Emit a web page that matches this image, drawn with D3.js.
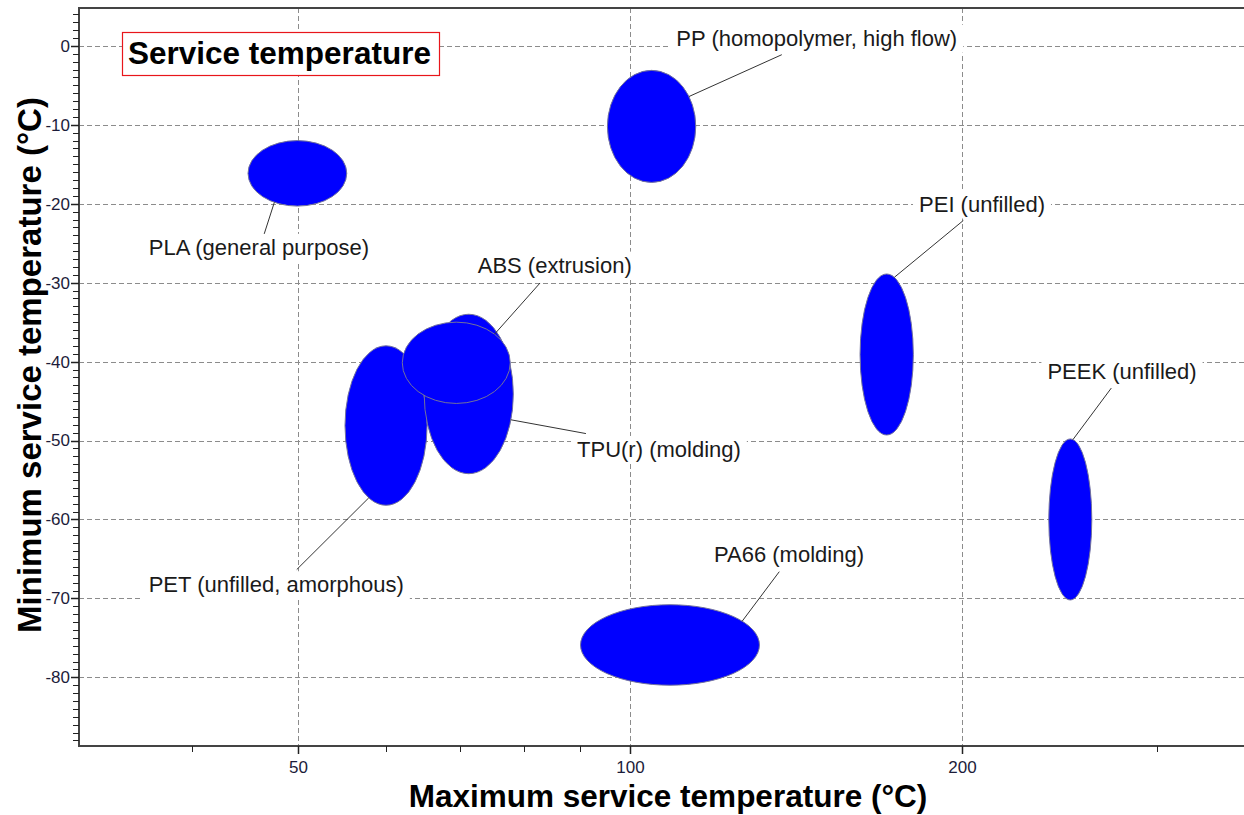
<!DOCTYPE html>
<html>
<head>
<meta charset="utf-8">
<script src="https://cdn.jsdelivr.net/npm/d3@7"></script>
<style>
  html, body { margin: 0; padding: 0; background: #fff; }
  svg { display: block; }
  text { font-family: "Liberation Sans", Arial, sans-serif; }
</style>
</head>
<body>
<svg id="chart" width="1244" height="815"></svg>
<script>
// Materials and their service temperature ranges (°C)
const materials = [
  "PLA (general purpose)",
  "PP (homopolymer, high flow)",
  "PEI (unfilled)",
  "PEEK (unfilled)",
  "PA66 (molding)",
  "PET (unfilled, amorphous)",
  "TPU(r) (molding)",
  "ABS (extrusion)"
];
const maxServiceLow  = [45,   95.3, 161.5, 239.5,  90.1,  55.1,  65.0,  62.1];
const maxServiceHigh = [55.3, 114.6, 180.5, 262,  130.9,  65.4,  78.3,  77.8];
const minServiceLow  = [-20.3, -17.3, -49.3, -70.2, -81.0, -58.2, -54.2, -45.3];
const minServiceHigh = [-12.0,  -3.1, -28.9, -49.8, -70.8, -38.0, -34.0, -35.0];

// Axis ticks
const xMajorTicks = [50, 100, 200];
const xMinorTicks = [40, 60, 70, 80, 90, 300];
const yMajorTicks = [0, -10, -20, -30, -40, -50, -60, -70, -80];
const yMinorTicks = d3.range(4, -89, -1);

// Annotation layout: label anchor and leader end relative to ellipse centre (px),
// leader start given as an angle on the ellipse rim (degrees)
const labelLayout = [
  { dx: -38.5, dy: 81.5,  ang: 117.8, ex: -33.5, ey: 61.6 },
  { dx: 165.2, dy: -80.7, ang: -32.2, ex: 130.2, ey: -71.7 },
  { dx: 95.3,  dy: -143,  ang: -73.4, ex: 76.6,  ey: -134 },
  { dx: 51.7,  dy: -140.7,ang: -82.9, ex: 41,    ey: -131.4 },
  { dx: 119,   dy: -83.3, ang: -36.2, ex: 109.3, ey: -73.3 },
  { dx: -109.8,dy: 166.7, ang: 114.9, ex: -89.3, ey: 144 },
  { dx: 190.2, dy: 63,    ang: 18.9,  ex: 117.2, ey: 39.6 },
  { dx: 98.5,  dy: -90.2, ang: -44.8, ex: 83.8,  ey: -79.8 }
];

const svg = d3.select("#chart");
const plotLeft = 79, plotRight = 1244, plotTop = 8, plotBottom = 746;

const x = d3.scaleLog().domain([31.62, 360]).range([plotLeft, plotRight]);
const y = d3.scaleLinear().domain([-88.7, 4.8]).range([plotBottom, plotTop]);

// Grid
const grid = svg.append("g").attr("stroke", "#8c8c8c").attr("stroke-width", 1)
  .attr("stroke-dasharray", "5,3").attr("fill", "none");
grid.selectAll("line.h").data(yMajorTicks).join("line").attr("class", "h")
  .attr("x1", plotLeft).attr("x2", plotRight)
  .attr("y1", d => Math.round(y(d)) + 0.5).attr("y2", d => Math.round(y(d)) + 0.5);
grid.selectAll("line.v").data(xMajorTicks).join("line").attr("class", "v")
  .attr("y1", plotTop).attr("y2", plotBottom)
  .attr("x1", d => Math.round(x(d)) + 0.5).attr("x2", d => Math.round(x(d)) + 0.5);

// Range ellipses
const rows = materials.map((name, i) => {
  const x0 = x(maxServiceLow[i]), x1 = x(maxServiceHigh[i]);
  const y0 = y(minServiceHigh[i]), y1 = y(minServiceLow[i]);
  return { name, i, cx: (x0 + x1) / 2, cy: (y0 + y1) / 2, rx: (x1 - x0) / 2, ry: (y1 - y0) / 2 };
});

svg.append("g").selectAll("ellipse").data(rows).join("ellipse")
  .attr("cx", d => d.cx).attr("cy", d => d.cy)
  .attr("rx", d => d.rx).attr("ry", d => d.ry)
  .attr("fill", "#0000ff")
  .attr("stroke", "#72729c").attr("stroke-width", 1);

// Leader lines
svg.append("g").selectAll("line").data(rows).join("line")
  .attr("stroke", "#333").attr("stroke-width", 1)
  .attr("x1", d => { const a = labelLayout[d.i].ang * Math.PI / 180; return d.cx + d.rx * Math.cos(a); })
  .attr("y1", d => { const a = labelLayout[d.i].ang * Math.PI / 180; return d.cy + d.ry * Math.sin(a); })
  .attr("x2", d => d.cx + labelLayout[d.i].ex)
  .attr("y2", d => d.cy + labelLayout[d.i].ey);

// Labels on white backgrounds
const labels = svg.append("g").selectAll("g").data(rows).join("g")
  .attr("transform", d => `translate(${d.cx + labelLayout[d.i].dx},${d.cy + labelLayout[d.i].dy})`);
labels.append("text")
  .attr("text-anchor", "middle").attr("font-size", 22).attr("fill", "#1a1a1a")
  .text(d => d.name);
labels.each(function() {
  const g = d3.select(this);
  const bb = g.select("text").node().getBBox();
  g.insert("rect", "text")
    .attr("x", bb.x - 6).attr("y", bb.y - 1)
    .attr("width", bb.width + 12).attr("height", bb.height + 3)
    .attr("fill", "#fff");
});

// Axes frame
const frame = svg.append("g").attr("stroke", "#444").attr("stroke-width", 2).attr("fill", "none");
frame.append("line").attr("x1", plotLeft).attr("x2", plotRight).attr("y1", plotTop).attr("y2", plotTop);
frame.append("line").attr("x1", plotLeft).attr("x2", plotLeft).attr("y1", plotTop - 1).attr("y2", plotBottom + 1);
frame.append("line").attr("x1", plotLeft - 1).attr("x2", plotRight).attr("y1", plotBottom).attr("y2", plotBottom);

// Y ticks
const yAxis = svg.append("g");
yAxis.selectAll("line.minor").data(yMinorTicks).join("line").attr("class", "minor")
  .attr("x1", plotLeft - 6).attr("x2", plotLeft)
  .attr("y1", d => Math.round(y(d)) + 0.5).attr("y2", d => Math.round(y(d)) + 0.5)
  .attr("stroke", "#222").attr("stroke-width", 1);
yAxis.selectAll("line.major").data(yMajorTicks).join("line").attr("class", "major")
  .attr("x1", plotLeft - 8).attr("x2", plotLeft)
  .attr("y1", d => Math.round(y(d)) + 0.5).attr("y2", d => Math.round(y(d)) + 0.5)
  .attr("stroke", "#222").attr("stroke-width", 1.5);
yAxis.selectAll("text").data(yMajorTicks).join("text")
  .attr("x", plotLeft - 9).attr("y", d => y(d)).attr("dy", "0.35em")
  .attr("text-anchor", "end").attr("font-size", 17).attr("fill", "#1c1c3a")
  .text(d => d);

// X ticks
const xAxis = svg.append("g");
xAxis.selectAll("line.minor").data(xMinorTicks).join("line").attr("class", "minor")
  .attr("y1", plotBottom).attr("y2", plotBottom + 6)
  .attr("x1", d => Math.round(x(d)) + 0.5).attr("x2", d => Math.round(x(d)) + 0.5)
  .attr("stroke", "#222").attr("stroke-width", 1);
xAxis.selectAll("line.major").data(xMajorTicks).join("line").attr("class", "major")
  .attr("y1", plotBottom).attr("y2", plotBottom + 8)
  .attr("x1", d => Math.round(x(d)) + 0.5).attr("x2", d => Math.round(x(d)) + 0.5)
  .attr("stroke", "#222").attr("stroke-width", 1.5);
xAxis.selectAll("text").data(xMajorTicks).join("text")
  .attr("x", d => x(d)).attr("y", 773)
  .attr("text-anchor", "middle").attr("font-size", 17).attr("fill", "#1c1c3a")
  .text(d => d);

// Axis titles
svg.append("text")
  .attr("x", 668).attr("y", 807)
  .attr("text-anchor", "middle").attr("font-size", 31.5).attr("font-weight", "bold")
  .attr("fill", "#000")
  .text("Maximum service temperature (°C)");
svg.append("text")
  .attr("transform", "translate(41,365) rotate(-90)")
  .attr("text-anchor", "middle").attr("font-size", 33).attr("font-weight", "bold")
  .attr("fill", "#000")
  .text("Minimum service temperature (°C)");

// Chart title box
const title = svg.append("g");
title.append("rect")
  .attr("x", 122.5).attr("y", 32.5).attr("width", 317).attr("height", 43)
  .attr("fill", "#fff").attr("stroke", "#e8161b").attr("stroke-width", 1.2);
title.append("text")
  .attr("x", 128).attr("y", 64)
  .attr("font-size", 31.5).attr("font-weight", "bold").attr("fill", "#000")
  .text("Service temperature");
</script>
</body>
</html>
